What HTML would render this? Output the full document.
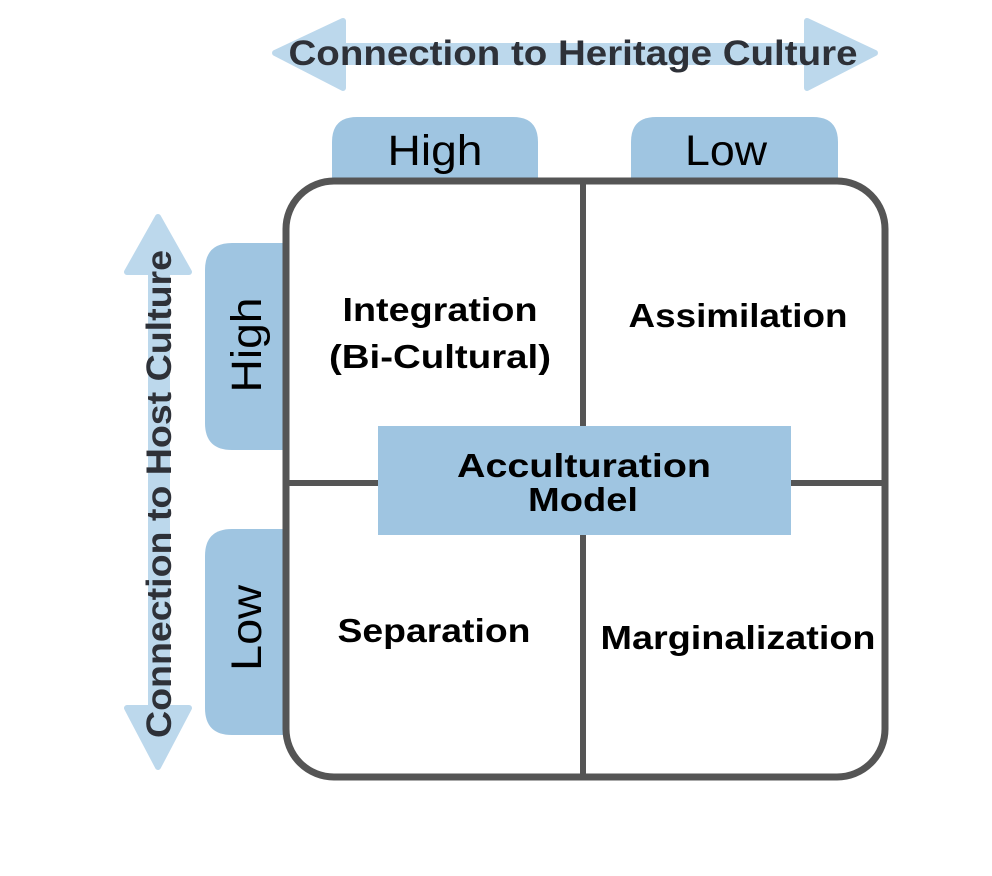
<!DOCTYPE html>
<html><head><meta charset="utf-8"><style>html,body{margin:0;padding:0;background:#fff}svg{display:block}</style></head>
<body>
<svg width="992" height="876" viewBox="0 0 992 876" xmlns="http://www.w3.org/2000/svg" font-family="'Liberation Sans', sans-serif">
<rect width="992" height="876" fill="#fff"/>
<g fill="#bcd8ec" stroke="#bcd8ec" stroke-linejoin="round" stroke-width="6">
<polygon points="275,53 343,21 343,88"/>
<polygon points="875,53 807,21 807,88"/>
</g>
<rect x="340" y="43" width="470" height="22" fill="#bcd8ec"/>
<text x="573" y="65" font-size="35" font-weight="bold" fill="#2e3138" text-anchor="middle" textLength="569" lengthAdjust="spacingAndGlyphs">Connection to Heritage Culture</text>
<g fill="#bcd8ec" stroke="#bcd8ec" stroke-linejoin="round" stroke-width="6">
<polygon points="158,217 127,272 189,272"/>
<polygon points="158,767 127,708 189,708"/>
</g>
<rect x="148" y="268" width="22" height="444" fill="#bcd8ec"/>
<text transform="translate(171,494) rotate(-90)" x="0" y="0" font-size="35" font-weight="bold" fill="#2e3138" text-anchor="middle" textLength="488" lengthAdjust="spacingAndGlyphs">Connection to Host Culture</text>
<path d="M332,180 V142 Q332,117 357,117 H513 Q538,117 538,142 V180 Z" fill="#9fc5e1"/>
<path d="M631,180 V142 Q631,117 656,117 H813 Q838,117 838,142 V180 Z" fill="#9fc5e1"/>
<text x="435" y="165" font-size="43" fill="#000" text-anchor="middle" textLength="95" lengthAdjust="spacingAndGlyphs">High</text>
<text x="726" y="165" font-size="43" fill="#000" text-anchor="middle" textLength="82" lengthAdjust="spacingAndGlyphs">Low</text>
<path d="M286,243 H232 Q205,243 205,270 V423 Q205,450 232,450 H286 Z" fill="#9fc5e1"/>
<path d="M286,529 H232 Q205,529 205,556 V708 Q205,735 232,735 H286 Z" fill="#9fc5e1"/>
<text transform="translate(261,345) rotate(-90)" font-size="43" fill="#000" text-anchor="middle" textLength="95" lengthAdjust="spacingAndGlyphs">High</text>
<text transform="translate(261,628) rotate(-90)" font-size="43" fill="#000" text-anchor="middle" textLength="86" lengthAdjust="spacingAndGlyphs">Low</text>
<rect x="286" y="181" width="599" height="596" rx="48" fill="#fff" stroke="#555" stroke-width="7"/>
<line x1="583" y1="181" x2="583" y2="777" stroke="#555" stroke-width="6"/>
<line x1="286" y1="483" x2="885" y2="483" stroke="#555" stroke-width="6"/>
<rect x="378" y="426" width="413" height="109" fill="#9fc5e1"/>
<g font-size="33" font-weight="bold" fill="#000" text-anchor="middle">
<text x="584" y="477" textLength="254" lengthAdjust="spacingAndGlyphs">Acculturation</text>
<text x="583" y="511" textLength="110" lengthAdjust="spacingAndGlyphs">Model</text>
<text x="440" y="321" textLength="195" lengthAdjust="spacingAndGlyphs">Integration</text>
<text x="440" y="368" textLength="222" lengthAdjust="spacingAndGlyphs">(Bi-Cultural)</text>
<text x="738" y="327" textLength="219" lengthAdjust="spacingAndGlyphs">Assimilation</text>
<text x="434" y="642" textLength="193" lengthAdjust="spacingAndGlyphs">Separation</text>
<text x="738" y="649" textLength="275" lengthAdjust="spacingAndGlyphs">Marginalization</text>
</g>
</svg>
</body></html>
